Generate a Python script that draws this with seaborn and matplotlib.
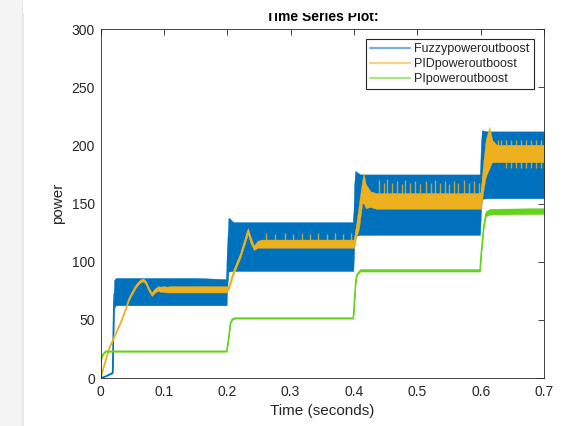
import numpy as np
import pandas as pd
import matplotlib
matplotlib.use("Agg")
import matplotlib.pyplot as plt
from matplotlib.lines import Line2D
from matplotlib.patches import Rectangle
import seaborn as sns

# ---------------- data ----------------
series_names = ["Fuzzypoweroutboost", "PIDpoweroutboost", "PIpoweroutboost"]
series_colors = ["#0072BD", "#EDB120", "#64D41A"]

# Fuzzy: envelope of the noisy signal (lower / upper edge)
fuzzy_time = [0.000, 0.008, 0.019, 0.0203, 0.0215, 0.024, 0.100, 0.147, 0.150, 0.199,
              0.2003, 0.202, 0.210, 0.300, 0.399,
              0.4003, 0.402, 0.410, 0.500, 0.599,
              0.6003, 0.602, 0.610, 0.700]
fuzzy_low = [0.0, 1.5, 4.0, 30.0, 60.0, 62.5, 62.5, 62.5, 62.5, 62.5,
             80.0, 91.5, 92.0, 92.0, 92.0,
             110.0, 122.0, 123.0, 123.0, 123.0,
             140.0, 154.0, 154.5, 154.5]
fuzzy_high = [0.0, 1.5, 5.0, 60.0, 84.0, 86.0, 86.0, 86.0, 86.0, 85.0,
              120.0, 138.0, 134.0, 134.0, 134.0,
              165.0, 178.0, 175.0, 175.0, 175.0,
              200.0, 213.0, 212.0, 212.0]

# PID: envelope
pid_time = [0.000, 0.013, 0.034, 0.041, 0.045, 0.050, 0.055, 0.060, 0.064, 0.068,
            0.072, 0.077, 0.081, 0.086, 0.091, 0.095, 0.100, 0.105, 0.110, 0.199,
            0.2003, 0.2027, 0.2106, 0.2212, 0.2328, 0.2360, 0.2420, 0.2480, 0.2550, 0.399,
            0.4003, 0.403, 0.408, 0.413, 0.4155, 0.4185, 0.426, 0.435, 0.599,
            0.6003, 0.604, 0.608, 0.6136, 0.617, 0.6185, 0.625, 0.700]
pid_low = [0.0, 24.5, 50.0, 60.5, 67.0, 72.0, 77.0, 80.5, 82.5, 83.0,
           80.0, 74.0, 70.5, 73.5, 75.0, 74.0, 74.0, 73.5, 73.5, 73.5,
           75.0, 76.0, 90.0, 104.0, 124.0, 117.0, 110.0, 112.0, 112.0, 112.0,
           112.0, 119.0, 128.5, 150.0, 150.0, 146.0, 147.0, 145.5, 145.5,
           145.0, 160.0, 173.0, 180.0, 184.5, 185.5, 185.5, 185.5]
pid_high = [0.0, 25.5, 51.0, 62.0, 69.0, 74.5, 79.5, 83.0, 85.0, 85.5,
            83.0, 77.0, 73.5, 77.0, 79.0, 78.5, 79.0, 78.5, 79.0, 79.0,
            79.0, 80.0, 94.0, 108.0, 129.0, 123.0, 114.0, 118.0, 119.0, 119.0,
            119.0, 130.0, 150.0, 170.0, 176.0, 167.0, 160.5, 159.0, 159.0,
            161.0, 185.0, 205.0, 216.0, 208.0, 204.5, 200.5, 200.5]

# PID periodic spikes on top of the band (time, base, tip)
pid_spike_time = [0.262, 0.275, 0.291, 0.304, 0.318, 0.331, 0.344, 0.357, 0.370, 0.383, 0.396,
                  0.439, 0.447, 0.452, 0.460, 0.468, 0.476, 0.481, 0.489, 0.497, 0.505,
                  0.513, 0.521, 0.528, 0.536, 0.544, 0.550, 0.558, 0.565, 0.573, 0.581,
                  0.589, 0.597,
                  0.627, 0.632, 0.6405, 0.6484, 0.6563, 0.6642, 0.6721, 0.6800, 0.6879, 0.6958]
pid_spike_base = [119.0] * 11 + [159.0] * 22 + [200.5] * 10
pid_spike_tip = [124.5, 124.0, 124.5, 124.0, 124.5, 124.0, 124.5, 124.0, 124.5, 124.0, 124.5,
                 170.0, 168.0, 171.0, 168.0, 169.0, 167.0, 170.0, 168.0, 169.0, 167.0,
                 169.0, 168.0, 170.0, 168.0, 169.0, 167.0, 169.0, 168.0, 170.0, 168.0,
                 169.0, 168.0,
                 205.0, 205.0, 204.5, 204.5, 204.5, 204.5, 204.5, 204.5, 204.5, 204.5]
# PID downward spikes below the band in the last step
pid_dip_time = [0.6405, 0.6484, 0.6563, 0.6642, 0.6721, 0.6800, 0.6879, 0.6958]
pid_dip_base = [185.5] * 8
pid_dip_tip = [180.5, 180.5, 180.5, 180.5, 180.5, 180.5, 180.5, 180.5]

# PI: envelope
pi_time = [0.000, 0.0008, 0.0012, 0.004, 0.008, 0.199,
           0.2005, 0.2035, 0.2045, 0.208, 0.212, 0.399,
           0.4005, 0.403, 0.405, 0.410, 0.599,
           0.6005, 0.6035, 0.6046, 0.6082, 0.615, 0.700]
pi_low = [0.0, 8.0, 16.0, 20.0, 22.5, 22.5,
          28.0, 40.0, 46.0, 50.0, 51.0, 51.0,
          65.0, 84.0, 88.5, 91.5, 91.5,
          105.0, 122.0, 128.0, 139.0, 140.5, 141.0]
pi_high = [0.0, 8.0, 17.0, 21.0, 23.5, 23.5,
           28.0, 40.0, 47.0, 51.5, 52.0, 52.0,
           65.0, 85.0, 89.5, 93.5, 93.5,
           106.0, 124.0, 131.0, 143.5, 145.5, 146.0]

x_ticks = [0, 0.1, 0.2, 0.3, 0.4, 0.5, 0.6, 0.7]
x_tick_labels = ["0", "0.1", "0.2", "0.3", "0.4", "0.5", "0.6", "0.7"]
y_ticks = [0, 50, 100, 150, 200, 250, 300]
y_tick_labels = ["0", "50", "100", "150", "200", "250", "300"]


def long_form(name, t, lo, hi):
    return pd.DataFrame({"t": list(t) + list(t),
                         "power": list(lo) + list(hi),
                         "series": name})


df = pd.concat([long_form(series_names[0], fuzzy_time, fuzzy_low, fuzzy_high),
                long_form(series_names[1], pid_time, pid_low, pid_high),
                long_form(series_names[2], pi_time, pi_low, pi_high)],
               ignore_index=True)

# ---------------- drawing ----------------
sns.set_theme(style="white")
plt.rcParams['font.family'] = ['Liberation Sans', 'DejaVu Sans']

W, H = 564, 426
fig = plt.figure(figsize=(W / 100, H / 100), dpi=100)
fig.patch.set_facecolor("white")
ax = fig.add_axes([100.5 / W, 48 / H, 443.5 / W, 349 / H])

palette = dict(zip(series_names, series_colors))
sns.lineplot(data=df, x="t", y="power", hue="series", hue_order=series_names,
             palette=palette, estimator="mean", errorbar=("pi", 100),
             err_kws={"alpha": 1, "linewidth": 0.3}, linewidth=1.0,
             legend=False, ax=ax)

# stack each series (band + line) in order: Fuzzy, PID, PI
for i, (coll, line) in enumerate(zip(ax.collections[:3], ax.lines[:3])):
    coll.set_zorder(1 + 2 * i)
    line.set_zorder(1.5 + 2 * i)

ax.vlines(pid_spike_time, pid_spike_base, pid_spike_tip, colors=series_colors[1],
          linewidth=1.0, alpha=0.8, zorder=4)
ax.vlines(pid_dip_time, pid_dip_base, pid_dip_tip, colors=series_colors[1],
          linewidth=1.0, alpha=0.8, zorder=4)

ax.set_xlim(0, 0.7)
ax.set_ylim(0, 300)
ax.set_xticks(x_ticks)
ax.set_xticklabels(x_tick_labels)
ax.set_yticks(y_ticks)
ax.set_yticklabels(y_tick_labels)
ax.set_xlabel("Time (seconds)", fontsize=11, color="#262626", labelpad=4)
ax.set_ylabel("power", fontsize=11, color="#262626", labelpad=5)
ax.set_facecolor("white")
for s in ax.spines.values():
    s.set_visible(True)
    s.set_color("#262626")
    s.set_linewidth(0.6)
    s.set_zorder(8)
ax.tick_params(axis="both", direction="in", length=4, width=0.6, top=True,
               right=True, colors="#262626", labelsize=10)
ax.tick_params(axis="x", pad=5)
ax.tick_params(axis="y", pad=4)

handles = [Line2D([], [], color=c, lw=1.6, alpha=0.55) for c in series_colors]
leg = ax.legend(handles, series_names, loc="upper right", fontsize=9,
                frameon=True, fancybox=False, edgecolor="#262626", framealpha=1,
                borderaxespad=0.8, handlelength=3.2, handletextpad=0.35,
                borderpad=0.35, labelspacing=0.22)
leg.get_frame().set_linewidth(0.8)
leg.set_zorder(10)
for txt in leg.get_texts():
    txt.set_color("#262626")

# title (top is clipped in the reference)
fig.text(322 / W, 1 - 20.7 / H, "Time Series Plot:", ha="center", va="baseline",
         fontsize=10, fontweight="bold", color="black", zorder=3)
fig.patches.append(Rectangle((23 / W, 1 - 12.5 / H), 1, 12.5 / H,
                             transform=fig.transFigure, facecolor="white",
                             edgecolor="none", zorder=10))
# light grey strip on the left edge of the screenshot
fig.patches.append(Rectangle((0, 0), 23 / W, 1, transform=fig.transFigure,
                             facecolor="#F4F4F4", edgecolor="none", zorder=0))
fig.patches.append(Rectangle((22 / W, 0), 2 / W, 1, transform=fig.transFigure,
                             facecolor="#E8E8E8", edgecolor="none", zorder=0))

fig.savefig("out.png", dpi=100)
